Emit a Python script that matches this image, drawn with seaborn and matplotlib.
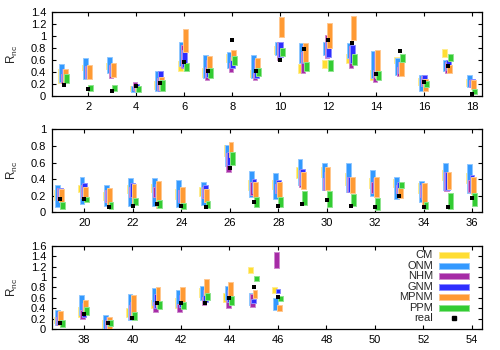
import numpy as np
import matplotlib
matplotlib.use("Agg")
import matplotlib.pyplot as plt
import seaborn as sns
from matplotlib.patches import Rectangle
from matplotlib.colors import to_rgb

# ---------------- data ----------------
positions = list(range(1, 47))

CM_lo = [0.22,0.43,0.45,0.08,0.12,0.42,0.32,0.57,0.31,0.71,0.39,0.46,0.55,0.27,0.55,0.18,0.66,0.17,
         0.15,0.25,0.15,0.23,0.25,0.16,0.20,0.68,0.27,0.28,0.41,0.43,0.33,0.29,0.30,0.23,0.39,0.35,
         0.11,0.24,0.00,0.24,0.40,0.41,0.62,0.51,1.07,0.70]
CM_hi = [0.45,0.52,0.55,0.16,0.25,0.58,0.46,0.71,0.43,0.83,0.54,0.61,0.71,0.43,0.66,0.30,0.78,0.28,
         0.27,0.33,0.25,0.33,0.34,0.28,0.30,0.81,0.39,0.39,0.55,0.55,0.47,0.41,0.40,0.35,0.51,0.47,
         0.24,0.43,0.17,0.40,0.56,0.59,0.78,0.69,1.20,0.81]

ONM_lo = [0.24,0.28,0.38,0.07,0.08,0.50,0.30,0.46,0.30,0.69,0.55,0.69,0.63,0.30,0.35,0.09,0.41,0.15,
          0.06,0.10,0.07,0.07,0.07,0.06,0.09,0.56,0.18,0.16,0.33,0.27,0.24,0.20,0.16,0.12,0.27,0.23,
          0.08,0.26,0.00,0.17,0.46,0.43,0.56,0.56,0.46,0.36]
ONM_hi = [0.54,0.64,0.65,0.16,0.42,0.90,0.69,0.74,0.69,0.91,0.88,0.91,0.89,0.76,0.63,0.35,0.60,0.35,
          0.33,0.43,0.33,0.41,0.41,0.39,0.36,0.81,0.50,0.47,0.64,0.59,0.59,0.51,0.42,0.38,0.60,0.58,
          0.36,0.65,0.27,0.67,0.78,0.75,0.82,0.82,0.69,0.59]

NHM_lo = [0.22,0.30,0.30,0.10,0.10,0.46,0.27,0.40,0.26,0.60,0.39,0.63,0.46,0.23,0.33,0.16,0.39,0.15,
          0.15,0.17,0.13,0.18,0.19,0.13,0.17,0.48,0.21,0.23,0.30,0.27,0.25,0.23,0.23,0.18,0.26,0.25,
          0.08,0.20,0.00,0.20,0.32,0.33,0.46,0.40,0.43,1.18]
NHM_hi = [0.36,0.50,0.52,0.24,0.30,0.85,0.49,0.55,0.38,0.91,0.74,1.02,0.83,0.43,0.49,0.33,0.57,0.27,
          0.29,0.33,0.27,0.31,0.31,0.27,0.30,0.71,0.37,0.34,0.51,0.41,0.43,0.37,0.33,0.33,0.49,0.39,
          0.24,0.36,0.17,0.46,0.52,0.48,0.62,0.56,0.67,1.47]

GNM_lo = [0.25,0.30,0.33,0.08,0.08,0.49,0.32,0.46,0.30,0.66,0.55,0.66,0.55,0.31,0.39,0.16,0.43,0.15,
          0.15,0.17,0.14,0.18,0.20,0.13,0.18,0.57,0.23,0.23,0.33,0.27,0.25,0.23,0.21,0.16,0.27,0.25,
          0.08,0.24,0.00,0.20,0.41,0.43,0.52,0.52,0.49,0.70]
GNM_hi = [0.45,0.50,0.53,0.20,0.42,0.77,0.60,0.66,0.60,0.91,0.85,0.91,0.85,0.74,0.57,0.35,0.61,0.28,
          0.29,0.35,0.27,0.35,0.34,0.27,0.33,0.73,0.40,0.39,0.52,0.49,0.43,0.41,0.36,0.35,0.49,0.45,
          0.32,0.49,0.24,0.52,0.68,0.65,0.75,0.75,0.58,0.77]

MPNM_lo = [0.22,0.28,0.32,0.08,0.10,0.74,0.44,0.60,0.41,0.98,0.57,0.80,0.94,0.30,0.33,0.09,0.38,0.11,
           0.13,0.15,0.07,0.09,0.05,0.10,0.13,0.67,0.19,0.18,0.28,0.27,0.23,0.18,0.17,0.05,0.28,0.22,
           0.08,0.27,0.00,0.19,0.43,0.49,0.65,0.62,0.60,0.35]
MPNM_hi = [0.45,0.52,0.55,0.17,0.32,1.12,0.67,0.77,0.63,1.32,0.89,1.22,1.34,0.77,0.57,0.28,0.52,0.27,
           0.28,0.30,0.29,0.34,0.38,0.30,0.28,0.85,0.37,0.37,0.49,0.54,0.43,0.43,0.29,0.35,0.48,0.43,
           0.35,0.56,0.24,0.65,0.81,0.80,0.96,0.91,0.74,0.46]

PPM_lo = [0.22,0.08,0.09,0.07,0.08,0.41,0.30,0.52,0.33,0.67,0.42,0.42,0.52,0.27,0.57,0.15,0.59,0.04,
          0.04,0.12,0.04,0.09,0.05,0.04,0.05,0.57,0.06,0.06,0.09,0.06,0.08,0.03,0.29,0.04,0.04,0.07,
          0.04,0.26,0.06,0.17,0.38,0.38,0.56,0.47,0.93,0.54]
PPM_hi = [0.37,0.18,0.18,0.17,0.27,0.56,0.46,0.67,0.46,0.80,0.57,0.61,0.70,0.42,0.71,0.25,0.70,0.11,
          0.13,0.19,0.13,0.17,0.15,0.11,0.14,0.73,0.18,0.18,0.26,0.26,0.22,0.17,0.37,0.13,0.23,0.23,
          0.17,0.43,0.17,0.32,0.54,0.51,0.69,0.64,1.02,0.63]

real = [0.18,0.11,0.08,0.16,0.22,0.57,0.42,0.93,0.42,0.61,0.79,0.93,0.89,0.37,0.75,0.24,0.50,0.04,
        0.16,0.16,0.06,0.08,0.10,0.07,0.06,0.53,0.12,0.07,0.10,0.15,0.08,0.06,0.20,0.06,0.06,0.17,
        0.11,0.28,0.11,0.22,0.49,0.49,0.49,0.60,0.81,0.62]

series_names = ["CM", "ONM", "NHM", "GNM", "MPNM", "PPM"]
series_lo = [CM_lo, ONM_lo, NHM_lo, GNM_lo, MPNM_lo, PPM_lo]
series_hi = [CM_hi, ONM_hi, NHM_hi, GNM_hi, MPNM_hi, PPM_hi]
series_colors = ["#FFDD33", "#3399FF", "#A62BA6", "#2E2EFF", "#FF9A33", "#33CC33"]
series_offsets = [-0.15, -0.10, -0.05, 0.0, 0.05, 0.10]

panel_xlims = [(0.48, 18.4), (18.65, 36.4), (36.67, 54.4)]
panel_ranges = [(1, 18), (19, 36), (37, 46)]
panel_ylims = [1.4, 1.0, 1.6]
panel_xticks = [list(range(2, 19, 2)), list(range(20, 37, 2)), list(range(38, 55, 2))]

# ---------------- style ----------------
sns.set_style("ticks")
plt.rcParams["font.family"] = ["Liberation Sans", "DejaVu Sans"]
plt.rcParams["mathtext.default"] = "regular"

fig = plt.figure(figsize=(5, 3.5), dpi=100)
W, H = 500, 350
left_px, right_px = 51.7, 481.7
panel_px = [(12.3, 96.0), (129.3, 212.3), (245.7, 329.0)]

def lighten(c, f=0.45):
    r, g, b = to_rgb(c)
    return (r + (1 - r) * f, g + (1 - g) * f, b + (1 - b) * f)

axes = []
for p in range(3):
    top, bot = panel_px[p]
    ax = fig.add_axes([left_px / W, 1 - bot / H, (right_px - left_px) / W, (bot - top) / H])
    axes.append(ax)
    lo_x, hi_x = panel_ranges[p]
    idx = [i for i, x in enumerate(positions) if lo_x <= x <= hi_x]
    xs = np.array([positions[i] for i in idx], dtype=float)
    for k in range(6):
        lo = np.array([series_lo[k][i] for i in idx])
        hi = np.array([series_hi[k][i] for i in idx])
        ax.bar(xs + series_offsets[k], hi - lo, bottom=lo, width=0.2,
               color=series_colors[k], edgecolor=lighten(series_colors[k]),
               linewidth=0.7, zorder=2 + k)
    ys = np.array([real[i] for i in idx])
    sns.scatterplot(x=xs, y=ys, ax=ax, marker="s", color="black",
                    s=11, linewidth=0, zorder=10, legend=False)
    ax.set_xlim(*panel_xlims[p])
    ax.set_ylim(0, panel_ylims[p])
    ax.set_xticks(panel_xticks[p])
    ax.set_xticklabels([str(t) for t in panel_xticks[p]])
    yt = np.round(np.arange(0, panel_ylims[p] + 1e-9, 0.2), 1)
    ax.set_yticks(yt)
    ax.set_yticklabels(["%g" % v for v in yt])
    ax.tick_params(direction="in", length=3, width=0.8, top=True, right=True,
                   labelsize=8, pad=4, colors="black")
    for s in ax.spines.values():
        s.set_linewidth(0.9)
        s.set_color("black")
        s.set_visible(True)
    ax.set_xlabel("")
    ax.set_ylabel(r"$R_{nc}$", fontsize=8.5, va="center", ha="center")
    ax.yaxis.set_label_coords(-0.092, 0.5)

# legend in bottom panel, gnuplot style
ax = axes[2]
row_y = [0.888, 0.762, 0.636, 0.510, 0.384, 0.258]
for k, name in enumerate(series_names):
    ax.text(0.887, row_y[k], name, transform=ax.transAxes, ha="right", va="center",
            fontsize=8, zorder=20)
    ax.add_patch(Rectangle((0.901, row_y[k] - 0.036), 0.069, 0.072, transform=ax.transAxes,
                           facecolor=series_colors[k], edgecolor=lighten(series_colors[k]),
                           linewidth=0.7, zorder=20))
ax.text(0.887, 0.132, "real", transform=ax.transAxes, ha="right", va="center",
        fontsize=8, zorder=20)
ax.plot([0.936], [0.132], marker="s", color="black", markersize=3.2, linestyle="none",
        transform=ax.transAxes, zorder=20)

fig.savefig("out.png", dpi=100)
